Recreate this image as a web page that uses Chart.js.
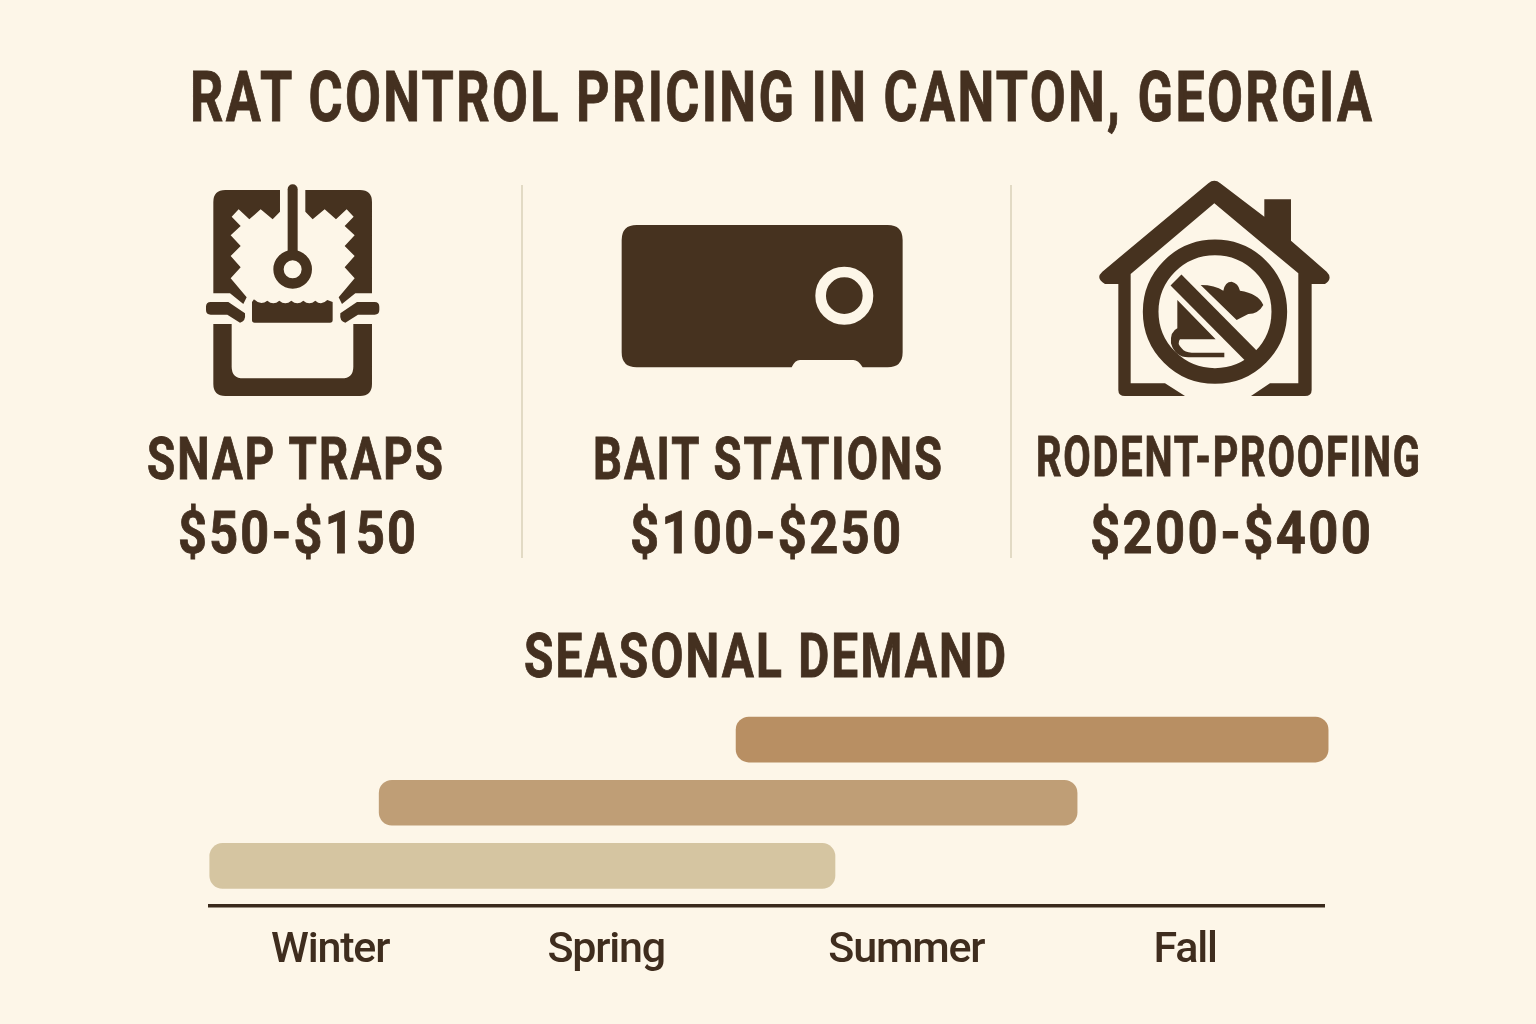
<!DOCTYPE html>
<html>
<head>
<meta charset="utf-8">
<title>Rat control pricing</title>
<script src="https://cdn.jsdelivr.net/npm/chart.js@4"></script>
<style>
    html, body { margin: 0; padding: 0; background: #fdf6e8; }
    #page { position: relative; width: 1536px; height: 1024px; overflow: hidden; background: #fdf6e8; }
    #demand { position: absolute; left: 0; top: 0; }
    #icons { position: absolute; left: 0; top: 0; }
    .txt {
        position: absolute; white-space: nowrap; line-height: 1; letter-spacing: 0.045em;
        font-family: Roboto, "Liberation Sans", sans-serif; font-weight: 700;
        -webkit-text-stroke: 0.9px #443020;
        color: #443020; transform-origin: 0 0;
    }
</style>
</head>
<body>
<div id="page">
    <canvas id="demand" width="1536" height="1024"></canvas>
    <svg id="icons" width="1536" height="1024" fill="#46321f">
        <!-- dividers -->
        <rect x="521" y="185" width="2" height="373" fill="#e2dac4"></rect>
        <rect x="1010" y="185" width="2" height="373" fill="#e2dac4"></rect>
        <!-- snap trap -->
        <g transform="translate(190,170) scale(0.3333)">
            <g id="trapSide">
                <path d="M270 60 L106 60 Q70 60 70 96 L70 370 L120 370 L160 402 L170 382 L122 325 L152 292 L122 258 L152 228 L122 196 L152 168 L125 140 L146 118 L178 148 L212 118 L248 148 L270 125 Z"></path>
                <path d="M48 410 Q48 396 62 396 L115 396 L165 430 Q168 455 150 458 L112 434 L62 434 Q48 434 48 420 Z"></path>
            </g>
            <use href="#trapSide" transform="translate(616,0) scale(-1,1)"></use>
            <path d="M308 58 L308 250" stroke="#46321f" stroke-width="30" stroke-linecap="round" fill="none"></path>
            <circle cx="308" cy="298" r="42.5" fill="none" stroke="#46321f" stroke-width="31"></circle>
            <path d="M186 396 L192 388 Q212 408 232 392 Q250 408 268 392 Q286 408 304 392 Q322 408 340 392 Q358 408 376 392 Q394 408 412 390 L428 396 L428 450 Q428 458 420 458 L194 458 Q186 458 186 450 Z"></path>
            <path d="M70 462 L125 462 L125 590 Q125 625 160 625 L455 625 Q490 625 490 590 L490 462 L546 462 L546 642 Q546 678 510 678 L106 678 Q70 678 70 642 Z"></path>
        </g>
        <!-- bait station -->
        <g transform="translate(610,210) scale(0.3333)">
            <path d="M80 45 L833 45 Q878 45 878 90 L878 427 Q878 472 833 472 L758 472 Q745 450 730 450 L570 450 Q555 450 545 472 L80 472 Q35 472 35 427 L35 90 Q35 45 80 45 Z"></path>
            <circle cx="703" cy="257" r="71" fill="none" stroke="#fdf6e8" stroke-width="32"></circle>
        </g>
        <!-- rodent-proofing house -->
        <g transform="translate(1085,170) scale(0.3333)">
            <path d="M406 40 L538 140 L538 88 L618 88 L618 212 L725 305 Q745 325 720 342 L680 342 L680 660 Q680 678 660 678 L498 678 L555 640 L640 640 L640 310 L388 100 L137 312 L137 640 L240 640 L300 678 L120 678 Q100 678 100 660 L100 342 L60 342 Q30 325 52 305 L370 40 Q388 25 406 40 Z"></path>
            <circle cx="390" cy="425" r="193" fill="none" stroke="#46321f" stroke-width="47"></circle>
            <path d="M273 330 L512 571" stroke="#46321f" stroke-width="46" fill="none"></path>
            <path d="M347 345 Q390 345 415 362 Q420 335 440 335 Q460 340 465 362 Q520 370 535 405 Q520 432 490 432 L455 450 Z"></path>
            <path d="M277 390 L392 508 L285 508 Q275 520 290 535 Q300 548 320 548 L418 548 L418 562 L310 562 Q270 562 258 520 Q255 485 277 475 Z"></path>
        </g>
    </svg>
</div>
<script>
const chartTitle = "RAT CONTROL PRICING IN CANTON, GEORGIA";
const serviceNames = ["SNAP TRAPS", "BAIT STATIONS", "RODENT-PROOFING"];
const servicePrices = ["$50-$150", "$100-$250", "$200-$400"];
const demandTitle = "SEASONAL DEMAND";

// seasons on the x axis, 0 = start of winter, 4 = end of fall
const seasons = ["Winter", "Spring", "Summer", "Fall"];
const seasonTicks = [0.432, 1.423, 2.5, 3.501];
const barStarts = [1.889, 0.608, 0];
const barEnds = [4.014, 3.113, 2.244];
const barRows = [3, 2, 1];
const barColors = ["#b88f63", "#bf9e76", "#d5c5a1"];

// text: [string, left, right, baseline, font size]
const textBoxes = [
    [chartTitle, 190, 1372, 121, 71],
    [serviceNames[0], 147, 443, 479, 60],
    [servicePrices[0], 178, 416, 553, 60],
    [serviceNames[1], 593, 942, 479, 60],
    [servicePrices[1], 630, 901, 553, 60],
    [serviceNames[2], 1036, 1420, 476, 56],
    [servicePrices[2], 1090, 1371, 553, 60],
    [demandTitle, 524, 1006, 677, 61]
];

const page = document.getElementById('page');
for (let i = 0; i < textBoxes.length; i++) {
    let box = textBoxes[i];
    let el = document.createElement('div');
    el.className = 'txt';
    el.textContent = box[0];
    el.style.fontSize = box[4] + 'px';
    el.style.left = box[1] + 'px';
    el.style.top = (box[3] - 0.841 * box[4]) + 'px';
    page.appendChild(el);
    // squeeze the text to the narrow width of the reference
    let width = el.getBoundingClientRect().width - 0.045 * box[4];
    el.style.transform = 'scaleX(' + ((box[2] - box[1]) / width) + ')';
}

let bars = [];
for (let i = 0; i < barRows.length; i++) {
    bars.push({ x: [barStarts[i], barEnds[i]], y: barRows[i] });
}

// tighter tick labels, the axis font is wider than the one in the picture
const tightTicks = {
    id: 'tightTicks',
    beforeDraw: function (chart) {
        chart.ctx.letterSpacing = '-1.2px';
    }
};

const demandConfig = {
    type: 'bar',
    plugins: [tightTicks],
    data: {
        datasets: [{
            label: "Seasonal demand",
            data: bars,
            backgroundColor: barColors,
            borderRadius: 13,
            borderSkipped: false,
            barThickness: 45,
            clip: false
        }]
    },
    options: {
        indexAxis: 'y',
        responsive: false,
        animation: false,
        layout: { padding: { left: 209.75, right: 211.75, top: 708, bottom: 0 } },
        plugins: { legend: { display: false }, title: { display: false }, tooltip: { enabled: false } },
        scales: {
            x: {
                type: 'linear',
                min: 0,
                max: 4,
                grid: { display: false, drawTicks: false },
                border: { display: true, color: '#3a2a1c', width: 3.5 },
                afterBuildTicks: function (axis) {
                    axis.ticks = seasonTicks.map(function (v) { return { value: v }; });
                },
                afterFit: function (axis) {
                    axis.height = 118.5;
                },
                ticks: {
                    autoSkip: false,
                    maxRotation: 0,
                    padding: 20,
                    color: '#3f2d1e',
                    font: { family: 'Roboto, sans-serif', size: 43, weight: '500' },
                    callback: function (value, index) {
                        return seasons[index];
                    }
                }
            },
            y: {
                type: 'linear',
                display: false,
                offset: false,
                min: 0.373,
                max: 3.5
            }
        }
    }
};
var demandChart = new Chart(document.getElementById('demand').getContext('2d'), demandConfig);
</script>
</body>
</html>
